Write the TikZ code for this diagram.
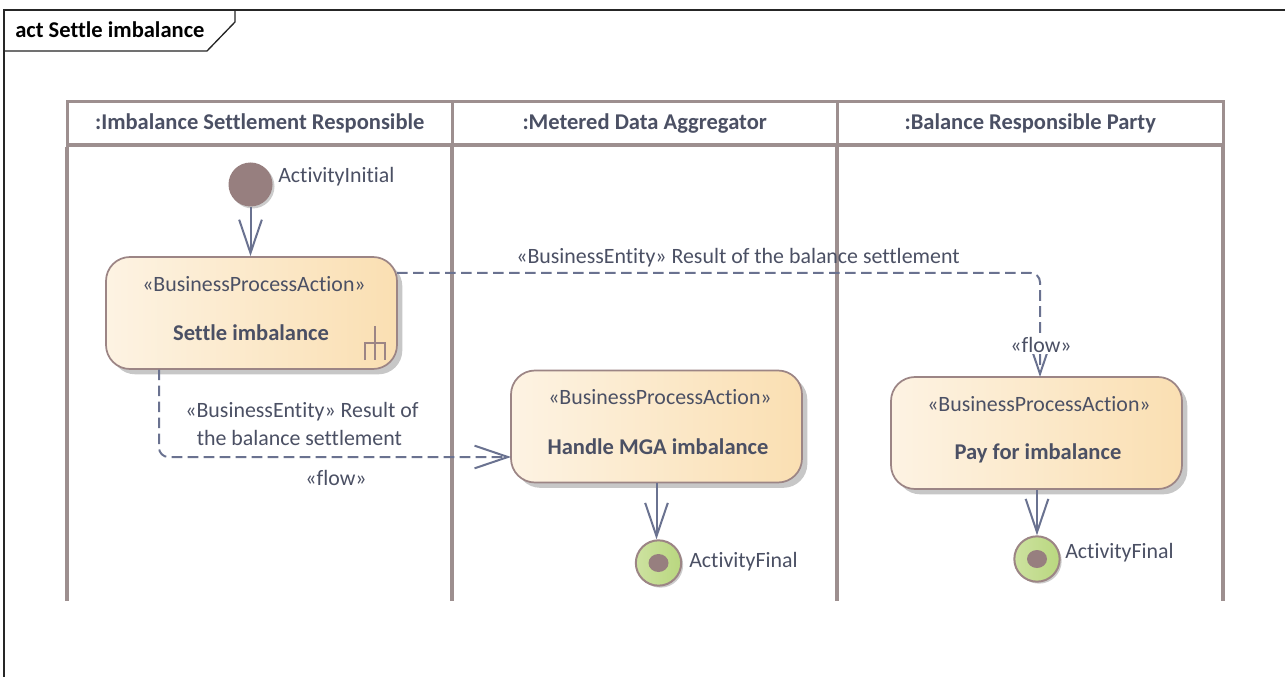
\documentclass[tikz,border=0pt]{standalone}
\usepackage{fontspec}
\setmainfont[Ligatures=NoCommon]{Carlito}
\usetikzlibrary{arrows.meta,shadows,calc}
\definecolor{lane}{HTML}{9D8F8F}
\definecolor{edgec}{HTML}{6A7290}
\definecolor{txt}{HTML}{4B5064}
\definecolor{boxl}{HTML}{FDF3E3}
\definecolor{boxr}{HTML}{FADFB2}
\definecolor{boxb}{HTML}{9C8585}
\definecolor{dotc}{HTML}{977F7F}
\definecolor{greenl}{HTML}{CDE2A0}
\definecolor{greenr}{HTML}{B9D77F}
\tikzset{
  x=0.75pt,y=-0.75pt,
  txtsize/.style={font=\fontsize{16.4}{21}\selectfont},
  label/.style={txtsize,text=txt,inner sep=0pt,align=center},
  head/.style={draw=lane,fill=white,line width=2.6pt,minimum height=32.5pt,inner sep=0pt,anchor=north west,
    font=\fontsize{16.9}{18}\selectfont\bfseries,text=txt},
  action/.style={draw=boxb,line width=1.3pt,rounded corners=18pt,minimum width=218.25pt,minimum height=84pt,
    inner sep=0pt,left color=boxl,right color=boxr,
    drop shadow={shadow xshift=4pt,shadow yshift=-4pt,opacity=.22,fill=black}},
  lanesep/.style={lane,line width=2.6pt},
  ctrl/.style={draw=edgec,line width=1.5pt,-{Straight Barb[length=25pt,width=17pt,line width=1.5pt]}},
  flowl/.style={ctrl,dash pattern=on 8pt off 4pt,rounded corners=7pt},
  sbold/.style={font=\fontsize{16.9}{19.5}\selectfont\bfseries,text=txt,inner sep=0pt},
}
\begin{document}
\begin{tikzpicture}
\useasboundingbox (0,0) rectangle (1285,677);
\fill[white] (0,0) rectangle (1285,677);
% frame
\draw[black!85,line width=1pt] (4,677) -- (4,10) -- (1285,10);
\draw[black!85,line width=1pt] (4,51) -- (207,51) -- (235,22) -- (235,10);
\node[anchor=west,inner sep=0pt,text=black,font=\fontsize{16.9}{18}\selectfont\bfseries] (frametitle) at (15,30) {act Settle imbalance};
% lanes
\node[head,minimum width=288.75pt] (h1) at (65.5,100) {:Imbalance Settlement Responsible};
\node[head,minimum width=288.75pt] (h2) at (450.5,100) {:Metered Data Aggregator};
\node[head,minimum width=289.5pt] (h3) at (835.5,100) {:Balance Responsible Party};
\coordinate (e1) at (67,601);
\coordinate (e2) at (452,601);
\coordinate (e3) at (837,601);
\coordinate (e4) at (1223,601);
\draw[lanesep] (e1 |- h1.south) -- (e1);
\draw[lanesep] (e2 |- h1.south) -- (e2);
\draw[lanesep] (e3 |- h1.south) -- (e3);
\draw[lanesep] (e4 |- h1.south) -- (e4);
% initial
\node[circle,fill=dotc,minimum size=33pt,inner sep=0pt,drop shadow={shadow xshift=1.5pt,shadow yshift=-1.5pt,opacity=.2,fill=black}] (init) at (250.5,184.5) {};
\node[label,anchor=west] (initl) at (278,176.5) {ActivityInitial};
% actions
\node[action] (settle) at (251.5,313) {};
\node[label] at (254,284) {«BusinessProcessAction»};
\node[sbold] at (251,333) {Settle imbalance};
\node[action] (handle) at (656.5,426.5) {};
\node[label] at (660,397) {«BusinessProcessAction»};
\node[sbold] at (658,447) {Handle MGA imbalance};
\node[action] (pay) at (1036.5,433) {};
\node[label] at (1039,404) {«BusinessProcessAction»};
\node[sbold] at (1038,453) {Pay for imbalance};
% fork
\draw[boxb,line width=.9pt] (375,326) -- (375,360) (365,360) -- (365,343) -- (385,343) -- (385,360);
% finals
\node[circle,draw=boxb,line width=1.5pt,left color=greenl,right color=greenr,minimum size=34pt,inner sep=0pt,drop shadow={shadow xshift=1.5pt,shadow yshift=-1.5pt,opacity=.2,fill=black}] (f1) at (658.5,563) {};
\fill[dotc] (f1.center) ellipse (10 and 9);
\node[circle,draw=boxb,line width=1.5pt,left color=greenl,right color=greenr,minimum size=34pt,inner sep=0pt,drop shadow={shadow xshift=1.5pt,shadow yshift=-1.5pt,opacity=.2,fill=black}] (f2) at (1037,559) {};
\fill[dotc] (f2.center) ellipse (10 and 9);
\node[label,anchor=west] (f1l) at (689,561.5) {ActivityFinal};
\node[label,anchor=west] (f2l) at (1065,552.5) {ActivityFinal};
% connectors
\draw[ctrl] (init) -- (init |- settle.north);
\draw[ctrl] (handle.south) -- (handle.south |- f1.north);
\draw[ctrl] (pay.south -| f2) -- (f2.north);
\coordinate (s1) at (397,273);
\coordinate (t1) at (1040,377);
\coordinate (s2) at (159,369.5);
\coordinate (t2) at (511,457);
\draw[flowl] (s1) -| (t1);
\draw[flowl] (s2) |- (t2);
% labels
\node[label] at (738,257.5) {«BusinessEntity» Result of the balance settlement};
\node[label,fill=white,inner sep=1pt] at (1041,345) {«flow»};
\node[label] at (302,424) {«BusinessEntity» Result of\\the balance settlement\hspace*{4pt}};
\node[label] at (336,478) {«flow»};
\end{tikzpicture}
\end{document}
